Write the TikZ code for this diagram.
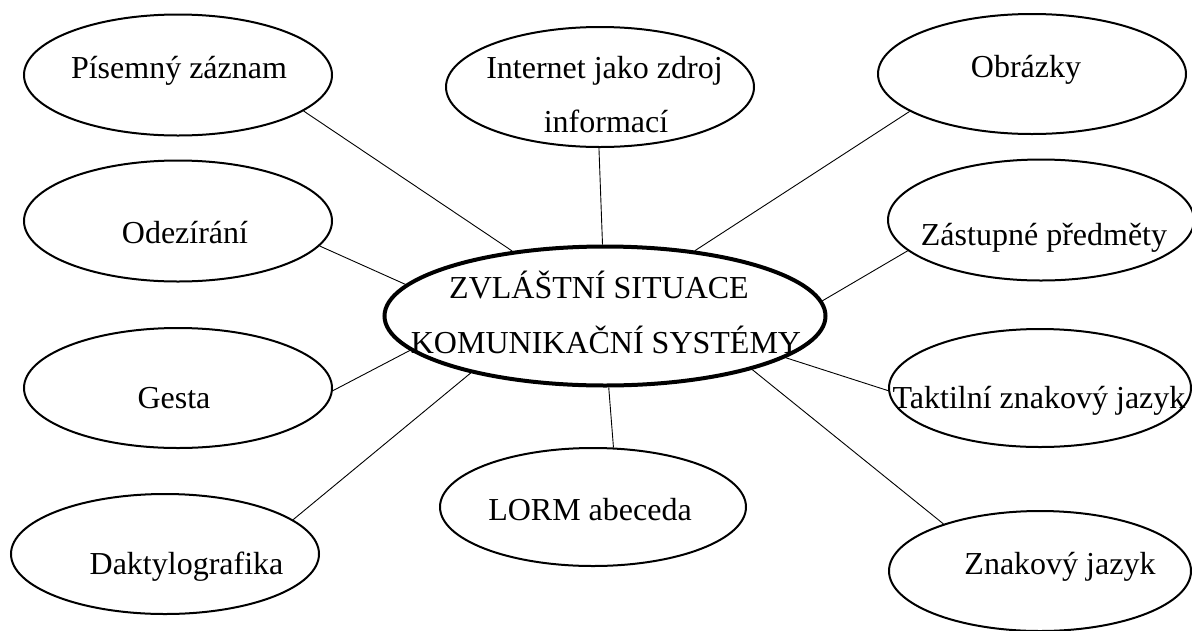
\documentclass[tikz,border=0pt]{standalone}
\usepackage{fontspec}
\setmainfont{Liberation Serif}
\usetikzlibrary{shapes.geometric}
\begin{document}
\begin{tikzpicture}[x=1pt,y=-1pt,
  bub/.style={draw,ellipse,line width=2pt,inner sep=0pt,minimum width=308pt,minimum height=121pt},
  hub/.style={draw,ellipse,line width=4pt,inner sep=0pt,minimum width=441pt,minimum height=139pt},
  lbl/.style={anchor=base,inner sep=0pt,font=\fontsize{32}{38}\selectfont},
  link/.style={line width=0.9pt}]
\useasboundingbox (0,0) rectangle (1192,630);
% ellipses
\node[hub] (c) at (605,316) {};
\node[bub] (pis) at (178,75) {};
\node[bub] (odez) at (178,221) {};
\node[bub,minimum height=120pt] (gesta) at (178,388) {};
\node[bub,minimum height=120pt] (dakt) at (165,554) {};
\node[bub,minimum height=120pt] (inet) at (600,87) {};
\node[bub,minimum height=120pt] (obr) at (1032,74) {};
\node[bub,minimum width=306pt] (zast) at (1041,220) {};
\node[bub,minimum width=302pt,minimum height=118pt] (takt) at (1040,388) {};
\node[bub,minimum width=302pt,minimum height=120pt] (znak) at (1040,571) {};
\node[bub,minimum width=306pt,minimum height=118pt] (lorm) at (593,507) {};
% texts
\node[lbl] (tc1) at (599,298) {ZVLÁŠTNÍ SITUACE};
\node[lbl] (tc2) at (606,353) {KOMUNIKAČNÍ SYSTÉMY};
\node[lbl] (tpis) at (179,78) {Písemný záznam};
\node[lbl] (todez) at (185,243) {Odezírání};
\node[lbl] (tgesta) at (174,408) {Gesta};
\node[lbl] (tdakt) at (186.5,574) {Daktylografika};
\node[lbl] (tinet1) at (604.5,78) {Internet jako zdroj};
\node[lbl] (tinet2) at (606,132) {informací};
\node[lbl] (tobr) at (1026,77) {Obrázky};
\node[lbl] (tzast) at (1044,245) {Zástupné předměty};
\node[lbl] (ttakt) at (1039,408) {Taktilní znakový jazyk};
\node[lbl] (tznak) at (1060,574) {Znakový jazyk};
\node[lbl] (tlorm) at (590,520) {LORM abeceda};
% connectors
\draw[link] (pis.-16.9) -- (c.145.9);
\draw[link] (inet.-91) -- (c.92.5);
\draw[link] (obr.197.5) -- (c.36);
\draw[link] (odez.-10.7) -- (c.171.8);
\draw[link] (zast.193.4) -- (c.4.7);
\draw[link] (gesta.-1.1) -- (c.190.4);
\draw[link] (dakt.15.9) -- (c.203.5);
\draw[link] (lorm.71.4) -- (c.-87);
\draw[link] (takt.181.9) -- (c.-13.4);
\draw[link] (znak.154.4) -- (c.-20.8);
\end{tikzpicture}
\end{document}
